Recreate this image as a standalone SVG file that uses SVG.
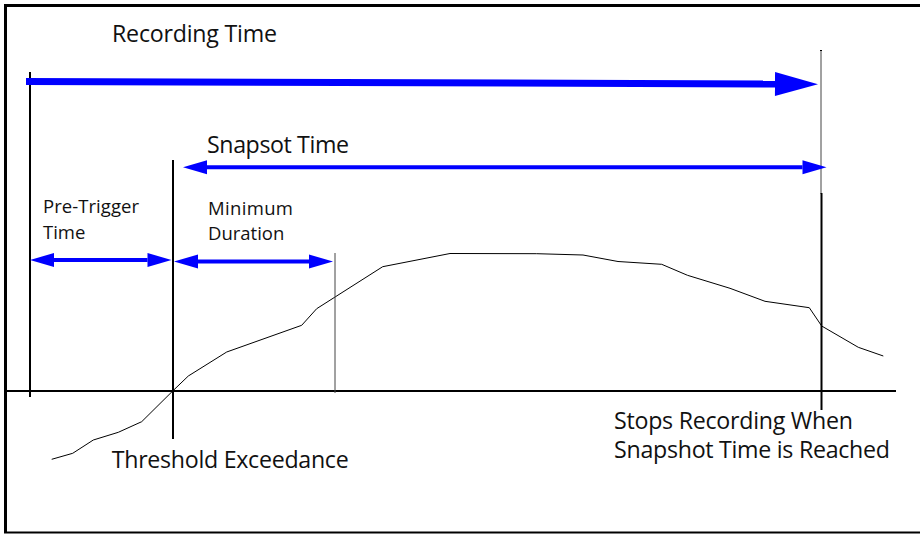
<svg xmlns="http://www.w3.org/2000/svg" width="920" height="534" viewBox="0 0 920 534">
<style>
.bg{fill:#ffffff}
.frame{fill:none;stroke:#000;}
.t{font-family:"Open Sans","Liberation Sans",sans-serif;fill:#111;}
.big{font-size:23.2px}
.small{font-size:18.5px}
.vl{stroke:#000;stroke-width:2;fill:none}
.vthin{stroke:#444;stroke-width:1;fill:none}
.curve{stroke:#000;stroke-width:1;fill:none}
.arr{stroke:#0000ff;fill:none}
</style>
<defs>
<marker id="bighead" markerUnits="userSpaceOnUse" markerWidth="43" markerHeight="24" refX="0" refY="12" orient="auto" overflow="visible">
<path d="M0,0 L43,12 L0,24 Z" fill="#0000ff"/>
</marker>
<marker id="head" markerUnits="userSpaceOnUse" markerWidth="24" markerHeight="14" refX="0" refY="7" orient="auto-start-reverse" overflow="visible">
<path d="M0,0 L24,7 L0,14 Z" fill="#0000ff"/>
</marker>
</defs>
<rect class="bg" x="0" y="0" width="920" height="534"/>
<g id="frame">
<line class="frame" x1="4" y1="5.5" x2="920" y2="5.5" stroke-width="3"/>
<line class="frame" x1="5.5" y1="4" x2="5.5" y2="533" stroke-width="3"/>
<line class="frame" x1="4" y1="532.5" x2="920" y2="532.5" stroke-width="2"/>
</g>
<g id="axis">
<line x1="5" y1="391" x2="896" y2="391" stroke="#000" stroke-width="2"/>
</g>
<g id="signal">
<polyline class="curve" points="51.7,459.3 72.7,453.3 93.3,440 118.3,432.3 141.7,421.7 172.7,391 188.3,376 226.7,352 301.7,325.3 316.7,308.7 382.7,266.7 450,253.5 536.7,253.7 583,255 618,261.5 661.7,264.3 687.5,275.3 730,288.3 765,301.3 809.3,307.7 821.7,326 858.3,347.3 883.3,356"/>
</g>
<g id="markers">
<line id="rec-start" class="vl" x1="30" y1="72" x2="30" y2="397"/>
<line id="threshold" class="vl" x1="173" y1="160" x2="173" y2="439"/>
<line id="min-end" class="vthin" x1="335" y1="253" x2="335" y2="393"/>
<line id="stop-top" class="vthin" x1="821" y1="50" x2="821" y2="194"/>
<line x1="820" y1="50.5" x2="822" y2="50.5" stroke="#000" stroke-width="1"/>
<line id="stop" class="vl" x1="821.5" y1="193" x2="821.5" y2="410"/>
</g>
<g id="connectors">
<line class="arr" x1="26" y1="81.5" x2="775" y2="84" stroke-width="7" marker-end="url(#bighead)"/>
<line class="arr" x1="207" y1="167.3" x2="802.5" y2="167.3" stroke-width="4" marker-start="url(#head)" marker-end="url(#head)"/>
<line class="arr" x1="54" y1="260" x2="147.5" y2="260" stroke-width="4" marker-start="url(#head)" marker-end="url(#head)"/>
<line class="arr" x1="198" y1="261.5" x2="309" y2="261.5" stroke-width="4" marker-start="url(#head)" marker-end="url(#head)"/>
</g>
<g id="label-recording">
<text class="t big" x="112" y="42" textLength="165">Recording Time</text>
</g>
<g id="label-snapshot">
<text class="t big" x="207" y="153" textLength="142">Snapsot Time</text>
</g>
<g id="label-pretrigger">
<text class="t small" x="43" y="213.3" textLength="96">Pre-Trigger</text>
<text class="t small" x="43" y="238.5">Time</text>
</g>
<g id="label-minimum">
<text class="t small" x="208" y="215" textLength="85">Minimum</text>
<text class="t small" x="208" y="240">Duration</text>
</g>
<g id="label-threshold">
<text class="t big" x="111.7" y="468.3" textLength="237">Threshold Exceedance</text>
</g>
<g id="label-stop">
<text class="t big" x="614" y="429.3" textLength="239">Stops Recording When</text>
<text class="t big" x="614" y="458.3" textLength="276">Snapshot Time is Reached</text>
</g>
</svg>
